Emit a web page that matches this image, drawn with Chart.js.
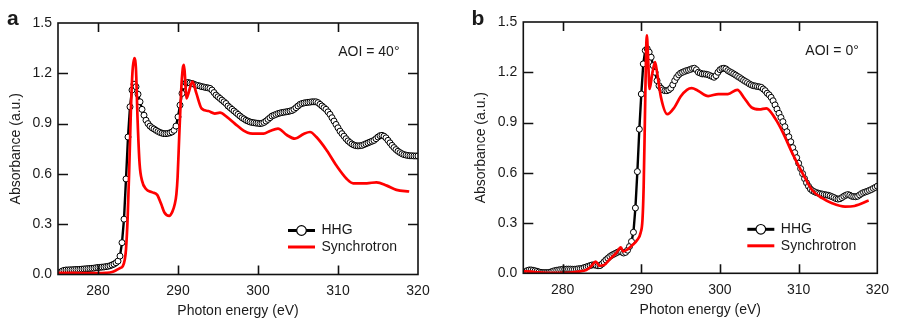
<!DOCTYPE html>
<html><head><meta charset="utf-8">
<script src="https://cdn.jsdelivr.net/npm/chart.js@4.4.1/dist/chart.umd.min.js"></script>
<style>
html,body{margin:0;padding:0;background:#fff;width:897px;height:321px;overflow:hidden}
canvas{position:absolute;top:0}
#ca{left:0}#cb{left:449px}
</style></head><body>
<canvas id="ca" width="449" height="321"></canvas>
<canvas id="cb" width="448" height="321"></canvas>
<script>
// ---- axis ticks ----
const xTickValues = [280, 290, 300, 310, 320];
const yTickValues = [0, 0.3, 0.6, 0.9, 1.2, 1.5];
const xTitle = 'Photon energy (eV)';
const yTitle = 'Absorbance (a.u.)';
const seriesNames = ['HHG', 'Synchrotron'];
const panelLetters = ['a', 'b'];
const panelNotes = ['AOI = 40°', 'AOI = 0°'];

// ---- HHG energy grid (eV), 0.25 eV sampling from 275 to 320 ----
const hhgStart = 275, hhgStep = 0.25, hhgCount = 181;
const hhgEnergy = Array.from({length: hhgCount}, (_, i) => hhgStart + i * hhgStep);

// ---- panel a (AOI = 40°) HHG absorbance ----
const hhgA = [
 0.005,0.012,0.02,0.025, 0.027,0.027,0.028,0.028, 0.029,0.03,0.03,0.031, 0.032,0.033,0.034,0.035,
 0.036,0.037,0.038,0.04, 0.042,0.043,0.044,0.045, 0.047,0.049,0.052,0.057, 0.062,0.07,0.08,0.11,
 0.19,0.33,0.57,0.82, 1.0,1.1,1.135,1.12, 1.075,1.03,0.985,0.95, 0.92,0.9,0.885,0.875,
 0.868,0.86,0.853,0.847, 0.843,0.84,0.84,0.842, 0.845,0.85,0.86,0.885, 0.94,1.01,1.08,1.125,
 1.143,1.145,1.142,1.14, 1.135,1.13,1.127,1.124, 1.12,1.118,1.115,1.113, 1.11,1.1,1.085,1.07,
 1.06,1.05,1.04,1.03, 1.02,1.005,0.995,0.985, 0.975,0.965,0.955,0.945, 0.935,0.928,0.92,0.915,
 0.91,0.907,0.905,0.903, 0.902,0.9,0.902,0.907, 0.915,0.925,0.935,0.945, 0.95,0.955,0.96,0.963,
 0.966,0.968,0.97,0.972, 0.975,0.978,0.985,0.995, 1.005,1.015,1.02,1.023, 1.025,1.027,1.028,1.03,
 1.03,1.03,1.025,1.015, 1.005,0.995,0.985,0.97, 0.955,0.935,0.915,0.895, 0.875,0.855,0.84,0.825,
 0.81,0.797,0.787,0.778, 0.772,0.768,0.767,0.768, 0.77,0.775,0.78,0.785, 0.79,0.795,0.8,0.81,
 0.82,0.828,0.83,0.825, 0.815,0.8,0.785,0.77, 0.757,0.745,0.735,0.727, 0.72,0.715,0.712,0.71,
 0.708,0.708,0.707,0.707, 0.707
];

// ---- panel a synchrotron ----
const synEnergyA = [275,277,279,280,281,281.75,282.25,282.75,283.1,283.35,283.5,283.7,283.9,284.1,284.3,284.55,284.75,284.95,285.2,285.5,286.0,286.8,287.4,287.9,288.3,288.9,289.3,289.6,289.8,289.95,290.15,290.4,290.6,290.75,290.9,291.05,291.3,291.8,292.3,292.95,293.8,294.6,295.25,296.1,297.1,298.2,299.0,300.7,301.5,302.5,303.6,304.6,305.7,306.5,307.3,308.6,309.8,311.1,311.9,313.6,314.8,316.1,317.3,318.9];
const synAbsA = [0.01,0.01,0.008,0.008,0.01,0.015,0.025,0.038,0.05,0.09,0.15,0.33,0.62,0.96,1.2,1.29,1.22,0.92,0.66,0.56,0.51,0.49,0.475,0.42,0.37,0.35,0.375,0.42,0.48,0.58,0.82,1.1,1.23,1.25,1.16,1.05,1.08,1.15,1.08,0.99,0.975,0.96,0.965,0.94,0.9,0.858,0.842,0.84,0.856,0.87,0.832,0.81,0.838,0.85,0.82,0.74,0.65,0.57,0.544,0.544,0.55,0.53,0.505,0.495];

// ---- panel b (AOI = 0°) HHG absorbance ----
const hhgB = [
 0.005,0.01,0.016,0.02, 0.02,0.018,0.015,0.012, 0.008,0.005,0.004,0.004, 0.004,0.005,0.008,0.012,
 0.016,0.018,0.02,0.022, 0.024,0.024,0.025,0.025, 0.025,0.024,0.024,0.025, 0.027,0.028,0.03,0.034,
 0.038,0.042,0.046,0.05, 0.05,0.048,0.045,0.046, 0.055,0.068,0.08,0.09, 0.1,0.108,0.114,0.12,
 0.126,0.13,0.127,0.121, 0.125,0.138,0.16,0.19, 0.245,0.39,0.607,0.86, 1.07,1.25,1.33,1.34,
 1.32,1.29,1.24,1.2, 1.15,1.12,1.105,1.095, 1.09,1.09,1.095,1.105, 1.125,1.15,1.17,1.185,
 1.195,1.2,1.205,1.21, 1.213,1.217,1.222,1.224, 1.215,1.2,1.195,1.19, 1.19,1.188,1.185,1.18,
 1.175,1.17,1.18,1.2, 1.215,1.222,1.224,1.22, 1.21,1.203,1.197,1.19, 1.183,1.175,1.168,1.16,
 1.152,1.145,1.138,1.13, 1.124,1.12,1.118,1.115, 1.113,1.11,1.1,1.09, 1.075,1.065,1.05,1.03,
 1.005,0.98,0.955,0.93, 0.905,0.875,0.845,0.815, 0.785,0.75,0.72,0.69, 0.657,0.625,0.595,0.565,
 0.54,0.52,0.503,0.493, 0.487,0.482,0.478,0.475, 0.473,0.47,0.468,0.466, 0.462,0.457,0.452,0.446,
 0.443,0.445,0.452,0.46, 0.466,0.47,0.466,0.46, 0.458,0.457,0.46,0.468, 0.476,0.482,0.486,0.49,
 0.495,0.5,0.507,0.513, 0.52
];

// ---- panel b synchrotron ----
const synEnergyB = [275,276,277,278,279,280,281,282,283,283.6,284.2,284.7,285.3,286.0,286.8,287.4,287.7,288.25,288.9,289.5,289.9,290.15,290.3,290.45,290.6,290.7,290.85,291.05,291.35,291.75,292.0,292.5,293.3,294.2,295.0,295.8,296.4,297.2,298.5,299.8,301.0,302.2,303.1,304.0,305.0,305.9,307.0,308.0,309.2,310.5,311.7,313.0,314.25,315.9,317.1,318.9];
const synAbsB = [0.012,0.01,0.006,0.003,0.002,0.002,0.004,0.01,0.02,0.04,0.07,0.045,0.05,0.084,0.12,0.155,0.13,0.143,0.17,0.2,0.24,0.32,0.52,0.9,1.3,1.42,1.3,1.1,1.18,1.26,1.2,1.05,0.95,0.99,1.055,1.095,1.105,1.09,1.058,1.07,1.07,1.095,1.045,0.99,0.978,0.985,0.925,0.84,0.716,0.597,0.497,0.448,0.418,0.398,0.402,0.434];

const FONT = '"Liberation Sans", Arial, Helvetica, sans-serif';
const TXT = '#1a1a1a';
const RED = '#ff0000';

const decor = {
  id: 'decor',
  afterDraw(chart, args, o) {
    const {ctx, chartArea: a, scales: {x, y}} = chart;
    ctx.save();
    ctx.strokeStyle = '#111';
    ctx.lineWidth = 1.6;
    ctx.strokeRect(a.left, a.top, a.right - a.left, a.bottom - a.top);
    ctx.beginPath();
    xTickValues.forEach(v => {
      if (v <= x.min || v >= x.max) return;
      const px = Math.round(x.getPixelForValue(v)) + 0.5;
      ctx.moveTo(px, a.bottom); ctx.lineTo(px, a.bottom - 9);
      ctx.moveTo(px, a.top); ctx.lineTo(px, a.top + 9);
    });
    yTickValues.forEach(v => {
      if (v <= y.min || v >= y.max) return;
      const py = Math.round(y.getPixelForValue(v)) + 0.5;
      ctx.moveTo(a.left, py); ctx.lineTo(a.left + 10, py);
      ctx.moveTo(a.right, py); ctx.lineTo(a.right - 10, py);
    });
    ctx.stroke();

    ctx.fillStyle = TXT;
    // axis titles
    ctx.font = '14px ' + FONT;
    ctx.textAlign = 'center'; ctx.textBaseline = 'middle';
    ctx.fillText(xTitle, (a.left + a.right) / 2, a.bottom + 37);
    ctx.save();
    ctx.translate(a.left - 42, (a.top + a.bottom) / 2);
    ctx.rotate(-Math.PI / 2);
    ctx.fillText(yTitle, 0, 0);
    ctx.restore();
    // note
    ctx.textAlign = 'right';
    ctx.fillText(o.note, a.right - 18.5, a.top + 29);
    // panel letter
    ctx.font = 'bold 21px ' + FONT;
    ctx.textAlign = 'left'; ctx.textBaseline = 'alphabetic';
    ctx.fillText(o.letter, o.letterX, 25);
    // legend
    const lx0 = a.right - 130, lx1 = a.right - 103, tx = a.right - 96.5;
    const y1 = a.bottom - 44, y2 = a.bottom - 27.5;
    ctx.lineWidth = 3; ctx.strokeStyle = '#000';
    ctx.beginPath(); ctx.moveTo(lx0, y1); ctx.lineTo(lx1, y1); ctx.stroke();
    ctx.beginPath(); ctx.arc((lx0 + lx1) / 2, y1, 4.8, 0, Math.PI * 2);
    ctx.fillStyle = '#fff'; ctx.fill(); ctx.lineWidth = 1.2; ctx.stroke();
    ctx.lineWidth = 3; ctx.strokeStyle = RED;
    ctx.beginPath(); ctx.moveTo(lx0, y2); ctx.lineTo(lx1, y2); ctx.stroke();
    ctx.fillStyle = TXT;
    ctx.font = '14px ' + FONT;
    ctx.textBaseline = 'middle';
    ctx.fillText(seriesNames[0], tx, y1);
    ctx.fillText(seriesNames[1], tx, y2);
    ctx.restore();
  }
};

function makeChart(id, hhg, synE, synY, p) {
  const hhgData = hhgEnergy.map((e, i) => ({x: e, y: hhg[i]}));
  const synData = synE.map((e, i) => ({x: e, y: synY[i]}));
  return new Chart(document.getElementById(id), {
    type: 'line',
    data: {
      datasets: [
        {label: seriesNames[1], data: synData, borderColor: RED, borderWidth: 2.7, pointRadius: 0,
         cubicInterpolationMode: 'monotone', fill: false},
        {label: seriesNames[0], data: hhgData, borderColor: '#000', borderWidth: 2.4, pointRadius: 3,
         pointBackgroundColor: '#fff', pointBorderColor: '#000', pointBorderWidth: 1, tension: 0, fill: false}
      ]
    },
    options: {
      responsive: false, animation: false, devicePixelRatio: 1,
      layout: {padding: {left: 0, right: p.padRight, top: p.padTop, bottom: 0}},
      plugins: {legend: {display: false}, tooltip: {enabled: false},
        decor: {note: p.note, letter: p.letter, letterX: p.letterX}},
      scales: {
        x: {type: 'linear', min: 275, max: 320,
          afterBuildTicks: s => { s.ticks = xTickValues.map(v => ({value: v})); },
          afterFit: s => { s.height = p.xH; },
          grid: {display: false, drawTicks: false}, border: {display: false},
          ticks: {padding: 8, color: TXT, font: {family: FONT, size: 14}, maxRotation: 0, autoSkip: false,
            callback: v => String(v)}},
        y: {type: 'linear', min: 0, max: 1.5,
          afterBuildTicks: s => { s.ticks = yTickValues.map(v => ({value: v})); },
          afterFit: s => { s.width = p.yW; },
          grid: {display: false, drawTicks: false}, border: {display: false},
          ticks: {padding: 6, color: TXT, font: {family: FONT, size: 14}, autoSkip: false,
            callback: v => Number(v).toFixed(1)}}
      }
    },
    plugins: [decor]
  });
}

makeChart('ca', hhgA, synEnergyA, synAbsA,
  {padRight: 31, padTop: 23, xH: 46.5, yW: 58, note: panelNotes[0], letter: panelLetters[0], letterX: 7});
makeChart('cb', hhgB, synEnergyB, synAbsB,
  {padRight: 14.7, padTop: 22, xH: 47.7, yW: 74.3, note: panelNotes[1], letter: panelLetters[1], letterX: 22.5});
</script>
</body></html>
